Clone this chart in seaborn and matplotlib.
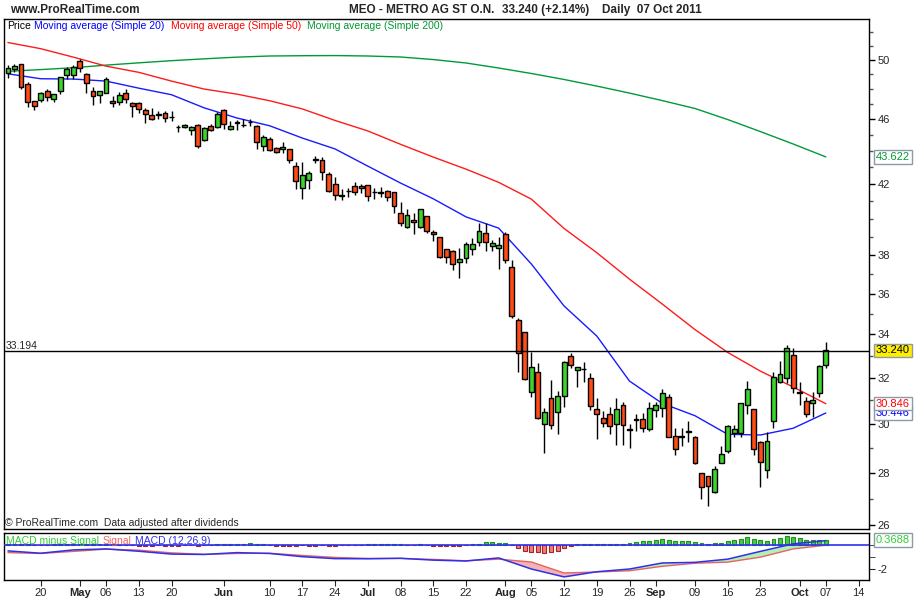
import numpy as np
import pandas as pd
import seaborn as sns
import matplotlib.pyplot as plt
from matplotlib.ticker import NullFormatter
from matplotlib.transforms import blended_transform_factory

sns.set_style('white')
plt.rcParams['font.family'] = ['Liberation Sans', 'DejaVu Sans']

# trading days, xetra closed good friday + easter monday
holidays = ['2011-04-22', '2011-04-25']
days = pd.bdate_range('2011-04-13', '2011-10-14')
days = days[~days.isin(pd.to_datetime(holidays))]

# daily OHLC, 13 Apr -> 07 Oct 2011
opens = [49.05, 49.33, 49.70, 48.32, 47.16, 47.25, 47.83, 47.34, 47.87, 48.96,
         48.96, 49.93, 49.01, 47.83, 47.56, 47.74, 47.16, 47.10, 47.70, 47.03,
         47.03, 46.59, 46.24, 46.30, 46.41, 46.15, 45.48, 45.47, 45.28, 45.65,
         44.65, 45.55, 45.51, 46.57, 45.34, 45.78, 45.64, 45.83, 45.55, 44.31,
         44.73, 44.18, 44.12, 44.08, 43.06, 41.76, 42.23, 43.44, 43.43, 42.58,
         41.97, 41.32, 41.59, 41.87, 41.87, 41.93, 41.50, 41.51, 41.58, 41.50,
         40.30, 39.51, 39.92, 39.54, 40.14, 39.23, 38.96, 38.31, 38.23, 37.65,
         37.86, 38.31, 38.69, 39.18, 38.50, 38.36, 39.13, 37.35, 34.69, 34.09,
         31.37, 32.24, 30.00, 31.08, 30.47, 31.19, 32.99, 32.34, 32.40, 31.96,
         30.60, 30.24, 30.42, 29.97, 30.78, 29.78, 30.15, 30.19, 29.79, 30.57,
         30.68, 31.12, 29.48, 29.47, 29.68, 29.45, 27.97, 27.86, 27.24, 28.39,
         28.86, 29.60, 29.60, 30.81, 30.60, 29.24, 28.10, 30.10, 31.82, 31.96,
         33.02, 31.34, 30.97, 30.86, 31.30, 32.56]
highs = [49.63, 49.68, 49.72, 48.44, 47.20, 47.80, 47.96, 47.66, 48.80, 49.51,
         49.63, 50.03, 49.05, 48.10, 47.86, 48.78, 47.52, 47.77, 47.96, 47.14,
         47.14, 46.70, 46.70, 46.50, 46.51, 46.51, 45.61, 45.67, 45.55, 45.68,
         45.51, 45.67, 46.47, 46.65, 45.86, 45.94, 45.98, 46.00, 45.60, 44.98,
         44.87, 44.24, 44.52, 44.10, 43.29, 43.29, 42.78, 43.65, 43.61, 42.73,
         42.38, 41.72, 41.74, 42.13, 41.99, 41.95, 41.74, 41.80, 41.62, 41.55,
         40.93, 40.53, 40.30, 40.55, 40.16, 39.36, 38.98, 38.33, 38.25, 38.36,
         38.72, 38.90, 39.77, 39.77, 38.81, 38.96, 39.23, 37.74, 34.77, 34.12,
         33.18, 32.64, 30.64, 31.89, 31.40, 32.75, 33.14, 32.50, 32.71, 32.19,
         31.08, 30.54, 30.71, 31.08, 30.92, 30.00, 30.42, 30.44, 30.92, 30.92,
         31.51, 31.26, 29.83, 29.83, 30.10, 29.47, 27.99, 27.88, 28.25, 29.06,
         29.95, 29.93, 30.88, 31.86, 30.62, 29.26, 29.65, 32.26, 32.74, 33.49,
         33.34, 31.82, 31.15, 31.37, 32.55, 33.65]
lows = [48.71, 49.16, 48.00, 46.81, 46.59, 47.12, 47.17, 47.12, 47.65, 48.68,
        48.64, 49.12, 47.74, 46.94, 47.03, 47.70, 46.76, 46.94, 47.03, 46.15,
        46.37, 45.77, 45.94, 45.99, 45.83, 45.86, 45.19, 45.40, 45.00, 44.18,
        44.63, 45.25, 45.45, 45.34, 45.28, 45.30, 45.51, 45.55, 44.08, 43.99,
        43.99, 43.84, 43.84, 43.23, 41.68, 41.13, 41.68, 43.27, 42.23, 41.50,
        41.06, 41.06, 41.25, 41.35, 41.47, 41.00, 41.10, 41.25, 41.00, 40.33,
        39.60, 39.48, 39.12, 39.50, 39.18, 38.77, 37.85, 37.60, 37.21, 36.78,
        37.56, 38.00, 38.47, 38.23, 38.22, 37.25, 37.60, 34.77, 32.26, 31.89,
        31.15, 30.20, 28.77, 29.75, 29.58, 30.69, 32.44, 31.56, 31.81, 30.57,
        29.34, 29.86, 29.57, 29.10, 29.10, 28.97, 29.69, 29.65, 29.68, 30.28,
        30.28, 29.42, 28.70, 29.06, 29.22, 28.34, 26.97, 26.73, 27.22, 28.37,
        28.80, 29.45, 29.45, 30.42, 28.70, 27.43, 27.78, 29.83, 31.77, 31.77,
        31.30, 30.78, 30.28, 30.28, 31.12, 32.45]
closes = [49.40, 49.56, 48.15, 47.10, 46.83, 47.70, 47.43, 47.63, 48.78, 49.33,
          49.51, 49.42, 48.37, 47.54, 47.83, 48.64, 47.03, 47.56, 47.30, 46.83,
          46.67, 46.31, 46.02, 46.28, 46.04, 46.13, 45.46, 45.59, 45.47, 44.29,
          45.43, 45.30, 46.33, 45.70, 45.53, 45.76, 45.62, 45.81, 44.56, 44.87,
          44.02, 43.90, 44.24, 43.43, 42.15, 42.51, 42.63, 43.47, 42.73, 41.56,
          41.35, 41.30, 41.57, 41.53, 41.73, 41.28, 41.52, 41.49, 41.25, 40.73,
          39.73, 40.20, 39.81, 40.53, 39.32, 39.12, 37.91, 37.88, 37.51, 37.79,
          38.58, 38.58, 39.32, 38.72, 38.67, 38.54, 37.74, 34.88, 33.10, 31.94,
          32.46, 30.22, 30.47, 29.92, 31.20, 32.71, 32.56, 32.49, 32.37, 30.75,
          30.40, 30.04, 29.88, 30.60, 29.93, 29.74, 30.19, 29.83, 30.64, 30.78,
          31.30, 29.45, 28.93, 29.43, 29.66, 28.39, 27.43, 27.47, 28.16, 28.73,
          29.90, 29.79, 30.86, 31.47, 28.93, 28.43, 29.27, 32.03, 32.16, 33.34,
          31.52, 31.30, 30.42, 31.00, 32.54, 33.24]

# moving averages read every 5th session
ma_idx = list(range(0, 126, 5))
sma20 = [49.02, 48.68, 48.66, 48.52, 48.04, 47.60, 46.73, 46.07, 45.57, 44.79,
         44.11, 43.06, 42.05, 41.13, 40.10, 39.47, 37.53, 35.38, 33.92, 31.84,
         30.86, 30.33, 29.55, 29.52, 29.80, 30.446]
sma50 = [51.22, 50.78, 50.18, 49.55, 49.12, 48.52, 47.98, 47.64, 47.20, 46.66,
         45.91, 45.24, 44.40, 43.61, 42.88, 42.09, 41.11, 39.45, 38.13, 36.74,
         35.48, 34.23, 33.15, 32.29, 31.58, 30.846]
sma200 = [49.19, 49.31, 49.44, 49.62, 49.78, 49.93, 50.06, 50.18, 50.26, 50.28,
          50.29, 50.26, 50.19, 50.01, 49.77, 49.42, 49.04, 48.63, 48.18, 47.71,
          47.21, 46.69, 45.97, 45.20, 44.42, 43.622]

# MACD(12,26,9), same sampling
macd = [-0.51, -0.70, -0.43, -0.35, -0.54, -0.77, -0.80, -0.65, -0.72, -0.98,
        -1.14, -1.15, -1.11, -1.26, -1.33, -1.08, -1.98, -2.62, -2.20, -1.98,
        -1.49, -1.44, -1.18, -0.55, 0.06, 0.32]
signal = [-0.65, -0.72, -0.55, -0.37, -0.45, -0.67, -0.79, -0.72, -0.70, -0.88,
          -1.04, -1.12, -1.12, -1.20, -1.31, -1.18, -1.41, -2.30, -2.22, -2.12,
          -1.76, -1.51, -1.42, -1.02, -0.35, -0.05]
# MACD minus signal, one per session
hist = [0.05, 0.05, 0.05, 0.05, -0.05, -0.05, -0.05, 0.03, 0.05, 0.05,
        0.08, 0.08, 0.08, 0.06, 0.05, 0.03, 0.02, -0.02, -0.03, -0.06,
        -0.08, -0.08, -0.08, -0.07, -0.08, -0.08, -0.08, -0.07, -0.06, -0.08,
        -0.07, -0.05, 0.05, 0.05, 0.05, 0.06, 0.06, 0.12, 0.06, 0.04,
        -0.06, -0.08, -0.08, -0.08, -0.08, -0.07, -0.08, -0.08, -0.07, -0.08,
        -0.08, -0.07, -0.06, -0.05, -0.02, 0.02, 0.03, 0.06, 0.06, 0.05,
        0.02, -0.02, -0.03, 0.02, -0.03, -0.08, -0.08, -0.09, -0.09, -0.08,
        -0.05, 0.02, 0.06, 0.18, 0.18, 0.16, 0.16, -0.05, -0.30, -0.48,
        -0.57, -0.62, -0.65, -0.62, -0.50, -0.30, -0.08, 0.02, 0.05, 0.05,
        0.05, 0.05, 0.05, 0.06, 0.06, 0.16, 0.22, 0.30, 0.30, 0.38,
        0.46, 0.38, 0.30, 0.30, 0.30, 0.19, 0.10, 0.02, 0.10, 0.10,
        0.30, 0.38, 0.46, 0.62, 0.46, 0.38, 0.30, 0.46, 0.57, 0.70,
        0.62, 0.57, 0.38, 0.38, 0.38, 0.3688]

tick_dates = ['2011-04-20', '2011-05-02', '2011-05-06', '2011-05-13', '2011-05-20',
              '2011-06-01', '2011-06-10', '2011-06-17', '2011-06-24', '2011-07-01',
              '2011-07-08', '2011-07-15', '2011-07-22', '2011-08-01', '2011-08-05',
              '2011-08-12', '2011-08-19', '2011-08-26', '2011-09-01', '2011-09-09',
              '2011-09-16', '2011-09-23', '2011-10-03', '2011-10-07', '2011-10-14']
tick_labels = ['20', 'May', '06', '13', '20', 'Jun', '10', '17', '24', 'Jul', '08', '15',
               '22', 'Aug', '05', '12', '19', '26', 'Sep', '09', '16', '23', 'Oct', '07', '14']
price_ticks = [26, 28, 30, 32, 34, 36, 38, 42, 46, 50]

GREEN = '#3bd42a'
RED = '#ff4b16'

o = np.array(opens); h = np.array(highs); l = np.array(lows); c = np.array(closes)
x = np.arange(len(c))

fig = plt.figure(figsize=(9.2, 6), dpi=100)
ax = fig.add_axes([4/920, 1 - 529/600, 865/920, 510/600])
ax2 = fig.add_axes([4/920, 1 - 580/600, 865/920, 47/600])

# candles
ax.vlines(x, l, h, color='black', lw=1, zorder=3)
ax.bar(x, np.abs(c - o), bottom=np.minimum(o, c), width=0.74,
       color=np.where(c >= o, GREEN, RED), edgecolor='black', linewidth=1, zorder=4)

sns.lineplot(x=ma_idx, y=sma200, color='#009a3a', lw=1, ax=ax, zorder=2)
sns.lineplot(x=ma_idx, y=sma50, color='#ff1a1a', lw=1, ax=ax, zorder=2)
sns.lineplot(x=ma_idx, y=sma20, color='#1a1aff', lw=1, ax=ax, zorder=2)
ax.axhline(33.194, color='black', lw=1, zorder=5)

ax.set_yscale('log')
ax.set_ylim(25.87, 52.94)
ax.set_xlim(-0.6, 131.6)
ax.set_yticks(price_ticks, [str(t) for t in price_ticks])
ax.set_yticks(range(26, 53), minor=True)
ax.yaxis.set_minor_formatter(NullFormatter())
for t in ax.get_yticklabels():
    if t.get_text() in ('30', '50'):
        t.set_fontweight('bold')
ax.yaxis.tick_right()
ax.tick_params(axis='y', which='major', direction='out', length=4, width=1,
               labelsize=8, pad=2, color='black')
ax.tick_params(axis='y', which='minor', direction='out', length=3, width=1, color='#555555')
ax.tick_params(axis='x', bottom=False, labelbottom=False)
ax.set_xlabel('')
ax.set_ylabel('')

# macd panel
ax2.bar(x, hist, width=0.6, color=np.where(np.array(hist) >= 0, '#46cc46', '#ef7b7b'),
        edgecolor=np.where(np.array(hist) >= 0, '#1f8f1f', '#a82424'), linewidth=0.8, zorder=2)
m = np.array(macd); s = np.array(signal)
ax2.fill_between(ma_idx, m, s, where=m >= s, interpolate=True, color='#b5efb5', lw=0, zorder=1)
ax2.fill_between(ma_idx, m, s, where=m < s, interpolate=True, color='#f4b3b3', lw=0, zorder=1)
sns.lineplot(x=ma_idx, y=signal, color='#e46464', lw=1, ax=ax2, zorder=3)
sns.lineplot(x=ma_idx, y=macd, color='#2f2fee', lw=1.1, ax=ax2, zorder=4)
ax2.axhline(0, color='#2f2fee', lw=1.2, zorder=3)
ax2.set_ylim(-2.87, 0.94)
ax2.set_xlim(-0.6, 131.6)
ax2.yaxis.tick_right()
ax2.set_yticks([-2], ['-2'])
ax2.set_yticks([-1, 0], minor=True)
ax2.tick_params(axis='y', which='both', direction='out', length=4, labelsize=8, pad=2)
ax2.set_xlabel('')
ax2.set_ylabel('')

pos = days.get_indexer(pd.to_datetime(tick_dates))
ax2.set_xticks(pos, tick_labels)
for t in ax2.get_xticklabels():
    if t.get_text().isalpha():
        t.set_fontweight('bold')
ax2.tick_params(axis='x', direction='out', length=4, labelsize=8, pad=2, bottom=True)

for a in (ax, ax2):
    for sp in a.spines.values():
        sp.set_color('black')
        sp.set_linewidth(1)
    a.grid(False)

# header and legends
def ft(px, py, s, **kw):
    fig.text(px / 920, 1 - py / 600, s, va='center', ha='left', **kw)

ft(10, 10, 'www.ProRealTime.com', fontsize=8.5, fontweight='bold')
ft(349, 10, 'MEO - METRO AG ST O.N.', fontsize=8.5, fontweight='bold')
ft(502, 10, '33.240 (+2.14%)', fontsize=8.5, fontweight='bold')
ft(602, 10, 'Daily  07 Oct 2011', fontsize=8.5, fontweight='bold')

ft(7, 26, 'Price', fontsize=7.5, color='black')
ft(34, 26, 'Moving average (Simple 20)', fontsize=7.5, color='#0000ff')
ft(171, 26, 'Moving average (Simple 50)', fontsize=7.5, color='#ff0000')
ft(307, 26, 'Moving average (Simple 200)', fontsize=7.5, color='#009933')
ft(6, 346, '33.194', fontsize=7.5)
ft(5, 523, '\u00a9 ProRealTime.com  Data adjusted after dividends', fontsize=7.5)

ft(6, 541, 'MACD minus Signal', fontsize=7.5, color='#33cc33')
ft(103, 541, 'Signal', fontsize=7.5, color='#ee6666')
ft(135, 541, 'MACD (12,26,9)', fontsize=7.5, color='#2f2fee')

# value tags on right axis
def tag(axis, val, s, color, face='white'):
    tr = blended_transform_factory(fig.transFigure, axis.transData)
    fig.text(876 / 920, val, s, transform=tr, va='center', ha='left', fontsize=8, color=color,
             bbox=dict(boxstyle='square,pad=0.15', fc=face, ec='#8d9aa8', lw=1))

tag(ax, 43.622, '43.622', '#009933')
tag(ax, 33.24, '33.240', 'black', '#ffee00')
tag(ax, 30.446, '30.446', '#0000ff')
tag(ax, 30.846, '30.846', '#ff0000')
tag(ax2, 0.3688, '0.3688', '#33cc33')

fig.savefig('out.png', dpi=100)
